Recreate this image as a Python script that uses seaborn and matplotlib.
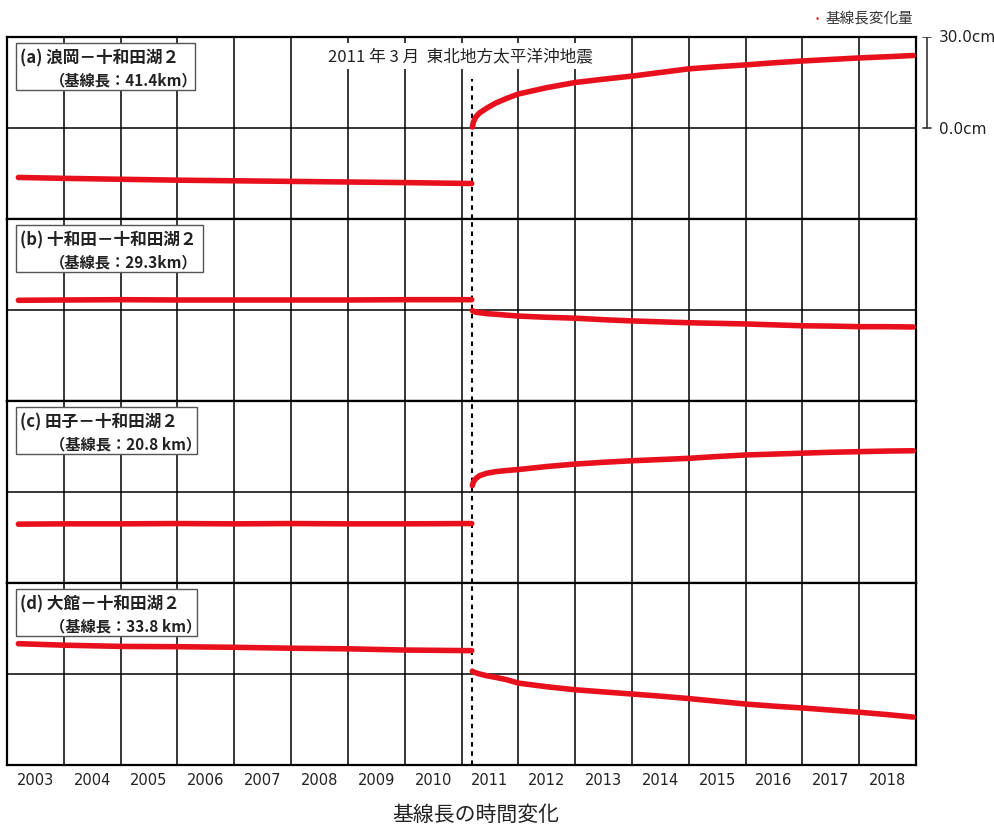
import matplotlib
matplotlib.use("Agg")
import matplotlib.pyplot as plt
from matplotlib.patches import Rectangle
import pandas as pd
import seaborn as sns

# ---- data: baseline length change (cm) ----
years = list(range(2003, 2019))
quake_year = 2011.19

t_before = [2003.2, 2004.0, 2005.0, 2006.0, 2007.0, 2008.0, 2009.0, 2010.0, 2011.18]
t_after = [2011.19, 2011.21, 2011.25, 2011.32, 2011.45, 2011.6, 2011.8, 2012.0,
           2012.5, 2013.0, 2013.5, 2014.0, 2014.5, 2015.0, 2015.5, 2016.0,
           2016.5, 2017.0, 2017.5, 2018.0, 2018.5, 2018.95]

a_before = [-16.3, -16.6, -16.9, -17.2, -17.4, -17.6, -17.8, -18.0, -18.3]
a_after = [0.3, 2.0, 3.6, 5.0, 6.6, 8.2, 9.8, 11.2, 13.3, 15.0, 16.1, 17.1,
           18.3, 19.5, 20.2, 20.8, 21.5, 22.1, 22.6, 23.1, 23.5, 23.9]

b_before = [3.2, 3.3, 3.4, 3.3, 3.3, 3.3, 3.3, 3.4, 3.4]
b_after = [-0.2, -0.4, -0.7, -0.9, -1.2, -1.4, -1.7, -2.0, -2.4, -2.7, -3.2, -3.6,
           -3.9, -4.2, -4.4, -4.6, -4.9, -5.2, -5.3, -5.5, -5.5, -5.6]

c_before = [-10.6, -10.5, -10.5, -10.4, -10.5, -10.4, -10.5, -10.5, -10.4]
c_after = [2.1, 3.3, 4.4, 5.4, 6.2, 6.7, 7.1, 7.4, 8.4, 9.2, 9.8, 10.3,
           10.7, 11.1, 11.7, 12.2, 12.5, 12.8, 13.1, 13.3, 13.5, 13.6]

d_before = [10.0, 9.5, 9.1, 9.0, 8.8, 8.5, 8.3, 7.9, 7.7]
d_after = [0.9, 0.7, 0.4, 0.0, -0.6, -1.1, -1.9, -3.0, -4.2, -5.2, -5.9, -6.6,
           -7.3, -8.1, -9.0, -9.9, -10.6, -11.2, -11.9, -12.6, -13.4, -14.2]

panel_names = ["(a) 浪岡－十和田湖２", "(b) 十和田－十和田湖２",
               "(c) 田子－十和田湖２", "(d) 大館－十和田湖２"]
baseline_lengths = ["（基線長：41.4km）", "（基線長：29.3km）",
                    "（基線長：20.8 km）", "（基線長：33.8 km）"]
series_before = [a_before, b_before, c_before, d_before]
series_after = [a_after, b_after, c_after, d_after]

quake_label = "2011 年 3 月  東北地方太平洋沖地震"
legend_label = "基線長変化量"
x_title = "基線長の時間変化"
scale_top_label = "30.0cm"
scale_zero_label = "0.0cm"

# ---- figure layout (pixel based) ----
W, H = 995, 828
sns.set_theme(style="white")
plt.rcParams["font.family"] = ["Noto Sans CJK JP", "DejaVu Sans"]

fig = plt.figure(figsize=(W / 100, H / 100), dpi=100)
fig.patch.set_facecolor("white")


def fx(x):
    return x / W


def fy(y):
    return 1 - y / H


left_px, right_px = 7, 916
top_px, panel_h = 38, 182
red = "#e8101c"
box_right = [195, 203, 197, 197]

axes = []
for i in range(4):
    ptop = top_px + i * panel_h
    ax = fig.add_axes([fx(left_px), fy(ptop + panel_h), fx(right_px - left_px), panel_h / H])
    axes.append(ax)

    df = pd.concat([
        pd.DataFrame({"year": t_before, "cm": series_before[i], "seg": "before"}),
        pd.DataFrame({"year": t_after, "cm": series_after[i], "seg": "after"}),
    ], ignore_index=True)
    sns.lineplot(data=df, x="year", y="cm", units="seg", estimator=None,
                 color=red, linewidth=4.0, ax=ax, zorder=4, legend=False)

    ax.set_xlim(2003, 2019)
    ax.set_ylim(-30, 30)
    for yr in years[1:]:
        ax.axvline(yr, color="black", lw=1.1, zorder=2)
    ax.axhline(0, color="black", lw=1.1, zorder=2)
    for s in ax.spines.values():
        s.set_color("black")
        s.set_linewidth(1.6)
    ax.set_yticks([])
    ax.set_xlabel("")
    ax.set_ylabel("")
    if i < 3:
        ax.set_xticks([])
    else:
        ax.set_xticks([y + 0.5 for y in years])
        ax.set_xticklabels([str(y) for y in years], fontsize=10.5,
                           family=["DejaVu Sans"], color="#222222")
        ax.tick_params(axis="x", length=0, pad=5)

    # earthquake marker
    ymax = 1.0 if i > 0 else (16.2 + 30) / 60
    ax.axvline(quake_year, ymin=0.0, ymax=ymax, color="black", lw=1.5,
               linestyle=(0, (2.2, 2.2)), zorder=3)

    # station-pair label box
    bx0, bx1 = 16, box_right[i]
    by0, by1 = ptop + 6, ptop + 53
    fig.patches.append(Rectangle((fx(bx0), fy(by1)), fx(bx1 - bx0), (by1 - by0) / H,
                                 transform=fig.transFigure, facecolor="white",
                                 edgecolor="#555555", lw=1.0, zorder=5))
    fig.text(fx(20), fy(ptop + 20), panel_names[i], fontsize=12, fontweight="bold",
             va="center", ha="left", color="#222222", zorder=6)
    fig.text(fx(50), fy(ptop + 42), baseline_lengths[i], fontsize=11, fontweight="bold",
             va="center", ha="left", color="#222222", zorder=6)

# earthquake caption on the top panel
fig.text(fx(460), fy(57), quake_label, fontsize=12, ha="center", va="center",
         color="#222222", zorder=6,
         bbox=dict(facecolor="white", edgecolor="none", pad=3))

# legend entry
fig.text(fx(817), fy(19), "•", fontsize=7, color=red, ha="center", va="center")
fig.text(fx(826), fy(19), legend_label, fontsize=10.5, ha="left", va="center",
         color="#333333")

# scale bar (30 cm = distance between top line and zero line of a panel)
scale_ax = fig.add_axes([fx(920), fy(top_px + panel_h), fx(14), panel_h / H])
scale_ax.set_xlim(0, 1)
scale_ax.set_ylim(-30, 30)
scale_ax.axis("off")
scale_ax.plot([0.5, 0.5], [0, 30], color="#333333", lw=1.2)
scale_ax.plot([0.22, 0.78], [30, 30], color="#333333", lw=1.2)
scale_ax.plot([0.22, 0.78], [0, 0], color="#333333", lw=1.2)
fig.text(fx(939), fy(38), scale_top_label, fontsize=11, ha="left", va="center",
         family=["DejaVu Sans"], color="#222222")
fig.text(fx(939), fy(129), scale_zero_label, fontsize=11, ha="left", va="center",
         family=["DejaVu Sans"], color="#222222")

# overall title below the axis
fig.text(fx(476), fy(815), x_title, fontsize=15, ha="center", va="center",
         color="#222222")

fig.savefig("out.png", dpi=100, facecolor="white")
